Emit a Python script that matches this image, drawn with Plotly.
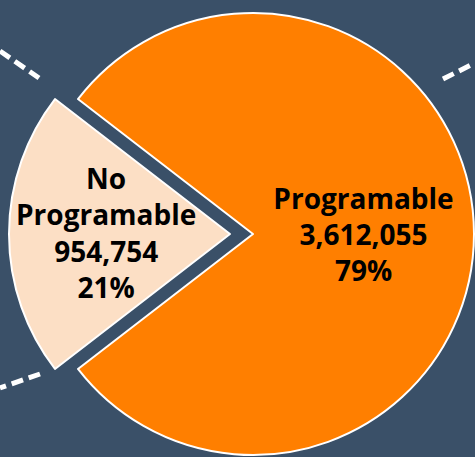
import plotly.graph_objects as go

# ---- data ----
labels = ["No Programable", "Programable"]
label_text = ["No<br>Programable", "Programable"]
values = [954754, 3612055]
colors = ["#FCDFC5", "#FF7F00"]

W, H = 475, 457
BG = "#3a5068"
R = 221  # pie radius in px
cy = 234
centers_x = [230, 253]  # peach pulled left, orange pulled right
FONT = dict(family="Open Sans", size=28, color="#000000", weight="bold")

total = sum(values)
frac0 = values[0] / total
rotation = 270 - 180 * frac0  # centre first slice at 9 o'clock (clockwise)

fig = go.Figure()
transparent = "rgba(0,0,0,0)"
for i in range(len(values)):
    cols = [colors[j] if j == i else transparent for j in range(len(values))]
    lines = ["white" if j == i else transparent for j in range(len(values))]
    # the small slice's label is placed as an annotation (pie would shrink it)
    tt = ["%{text}<br>%{value:,}<br>%{percent:.0%}" if (j == i and i == 1) else ""
          for j in range(len(values))]
    cx = centers_x[i]
    fig.add_trace(go.Pie(
        labels=labels,
        values=values,
        text=label_text,
        texttemplate=tt,
        textinfo="text",
        textposition="inside",
        insidetextorientation="horizontal",
        textfont=FONT,
        marker=dict(colors=cols, line=dict(color=lines, width=2)),
        sort=False,
        direction="clockwise",
        rotation=rotation,
        domain=dict(x=[max(0, (cx - R) / W), min(1, (cx + R) / W)],
                    y=[1 - (cy + R) / H, 1 - (cy - R) / H]),
        showlegend=False,
        hoverinfo="skip",
    ))

pct0 = round(100 * values[0] / total)
fig.add_annotation(
    xref="paper", yref="paper", x=106 / W, y=1 - 232 / H,
    xanchor="center", yanchor="middle", showarrow=False,
    text=f"{label_text[0]}<br>{values[0]:,}<br>{pct0}%",
    font=FONT, align="center",
)

dash_segments = [
    ((0, 51), (39, 78)),
    ((443, 79), (475, 63)),
    ((40, 374), (0, 388)),
]
for (x0, y0), (x1, y1) in dash_segments:
    fig.add_shape(type="line", xref="paper", yref="paper",
                  x0=x0 / W, y0=1 - y0 / H, x1=x1 / W, y1=1 - y1 / H,
                  line=dict(color="white", width=5, dash="12px,6px"))

fig.update_layout(
    width=W, height=H, autosize=False,
    margin=dict(l=0, r=0, t=0, b=0),
    paper_bgcolor=BG, plot_bgcolor=BG,
)
fig.write_html("out.html", config={"displayModeBar": False},
               post_script="document.body.style.margin='0';document.body.style.background='" + BG + "';")
